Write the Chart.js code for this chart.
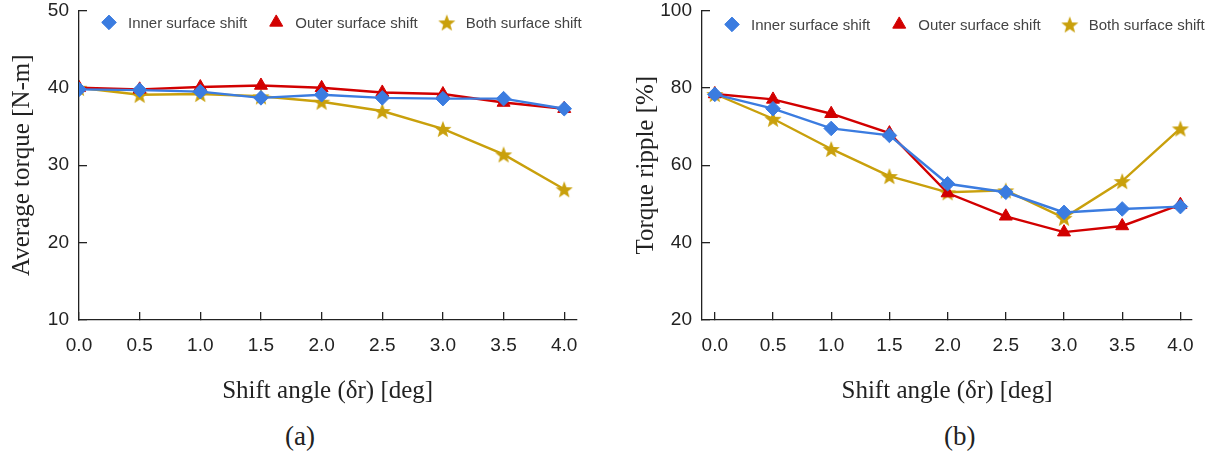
<!DOCTYPE html>
<html>
<head>
<meta charset="utf-8">
<script src="https://cdn.jsdelivr.net/npm/chart.js@4.4.1/dist/chart.umd.min.js"></script>
<style>
  body { margin: 0; background: #fff; width: 1216px; height: 456px; overflow: hidden; position: relative; }
  .box { position: absolute; top: -19px; height: 425px; }
  .cap { position: absolute; top: 421px; font: 27px "Liberation Serif", "Times New Roman", serif; color: #222; line-height: 30px; }
</style>
</head>
<body>
<div class="box" style="left:0;width:600px"><canvas id="torqueChart"></canvas></div>
<div class="box" style="left:620px;width:596px"><canvas id="rippleChart"></canvas></div>
<div class="cap" style="left:285px">(a)</div>
<div class="cap" style="left:944px">(b)</div>

<script>
// data
var angles = [0, 0.5, 1.0, 1.5, 2.0, 2.5, 3.0, 3.5, 4.0];
var seriesNames = ["Inner surface shift", "Outer surface shift", "Both surface shift"];

var torqueInner = [39.8, 39.7, 39.5, 38.7, 39.1, 38.7, 38.6, 38.6, 37.3];
var torqueOuter = [40.0, 39.8, 40.1, 40.3, 40.0, 39.4, 39.2, 38.1, 37.3];
var torqueBoth  = [40.0, 39.1, 39.2, 38.9, 38.2, 37.0, 34.7, 31.4, 26.9];

var rippleInner = [78.3, 74.6, 69.5, 67.7, 55.2, 53.0, 47.8, 48.7, 49.3];
var rippleOuter = [78.4, 77.0, 73.3, 68.3, 52.8, 46.8, 42.7, 44.3, 49.8];
var rippleBoth  = [78.4, 72.0, 64.2, 57.2, 53.0, 53.5, 46.4, 55.9, 69.5];

var angleTicks  = [0, 0.5, 1.0, 1.5, 2.0, 2.5, 3.0, 3.5, 4.0];
var torqueTicks = [10, 20, 30, 40, 50];
var rippleTicks = [20, 40, 60, 80, 100];

var seriesColors = ["#3b7ce0", "#d20000", "#c9a00c"];
var sansFont = '"Liberation Sans", Arial, sans-serif';
var serifFont = '"Liberation Serif", "Times New Roman", serif';
var axisColor = "#222";

// filled 5 point star (chart.js "star" is only an asterisk)
function makeStar(color, r) {
  var c = document.createElement("canvas");
  var s = Math.ceil(r * 2) + 2;
  c.width = c.height = s;
  var g = c.getContext("2d");
  g.fillStyle = color;
  g.beginPath();
  for (var i = 0; i < 10; i++) {
    var rr = i % 2 ? r * 0.42 : r;
    var a = -Math.PI / 2 + i * Math.PI / 5;
    g.lineTo(s / 2 + rr * Math.cos(a), s / 2 + 1 + rr * Math.sin(a));
  }
  g.closePath();
  g.fill();
  return c;
}

var pointStyles = ["rectRot", "triangle", makeStar(seriesColors[2], 9)];
var pointSizes = [7.3, 7.5, 8];

function lineSet(i, values) {
  return {
    label: seriesNames[i],
    data: angles.map(function (a, k) { return { x: a, y: values[k] }; }),
    borderColor: seriesColors[i],
    backgroundColor: seriesColors[i],
    borderWidth: 2.4,
    pointStyle: pointStyles[i],
    pointRadius: pointSizes[i],
    pointBorderWidth: 1,
    tension: 0
  };
}

// legend drawn inside the plot, like the original
var innerLegend = {
  id: "innerLegend",
  afterDraw: function (chart, args, opts) {
    var ctx = chart.ctx;
    var x = chart.chartArea.left + opts.offset;
    var y = chart.chartArea.top + opts.dy;
    ctx.save();
    ctx.font = "15px " + sansFont;
    ctx.textBaseline = "middle";
    chart.data.datasets.forEach(function (ds) {
      ctx.fillStyle = ds.backgroundColor;
      ctx.strokeStyle = ds.borderColor;
      Chart.helpers.drawPoint(ctx, { pointStyle: ds.pointStyle, radius: ds.pointRadius, rotation: 0, borderWidth: 1 }, x, y);
      ctx.fillStyle = "#444";
      ctx.fillText(ds.label, x + 19, y + 1);
      x += 19 + ctx.measureText(ds.label).width + 29;
    });
    ctx.restore();
  }
};

function makeChart(id, sets, yTicks, yTitle, xMin, yWidth, padRight, yTitlePad, legendDy) {
  return new Chart(document.getElementById(id), {
    type: "line",
    data: { datasets: sets },
    plugins: [innerLegend],
    options: {
      responsive: true,
      maintainAspectRatio: false,
      animation: false,
      layout: { padding: { top: 11, right: padRight, left: 0, bottom: 0 } },
      plugins: {
        legend: { display: false },
        tooltip: { enabled: false },
        innerLegend: { offset: 30, dy: legendDy }
      },
      scales: {
        x: {
          type: "linear",
          min: xMin,
          max: 4.1,
          afterBuildTicks: function (s) { s.ticks = angleTicks.map(function (v) { return { value: v }; }); },
          afterFit: function (s) { s.height = 86; },
          border: { color: axisColor, width: 1.3 },
          grid: { drawOnChartArea: false, color: axisColor, lineWidth: 1.3, tickLength: -8 },
          ticks: {
            padding: 22, color: axisColor, maxRotation: 0,
            font: { family: sansFont, size: 19 },
            callback: function (v) { return v.toFixed(1); }
          },
          title: {
            display: true, text: "Shift angle (δr) [deg]", color: axisColor,
            font: { family: serifFont, size: 25 }, padding: { top: 0, bottom: 0 }
          }
        },
        y: {
          min: yTicks[0],
          max: yTicks[yTicks.length - 1],
          afterBuildTicks: function (s) { s.ticks = yTicks.map(function (v) { return { value: v }; }); },
          afterFit: function (s) { s.width = yWidth; },
          border: { color: axisColor, width: 1.3 },
          grid: { drawOnChartArea: false, color: axisColor, lineWidth: 1.3, tickLength: -8 },
          ticks: { padding: 18, color: axisColor, font: { family: sansFont, size: 19 } },
          title: {
            display: true, text: yTitle, color: axisColor,
            font: { family: serifFont, size: 25 }, padding: { top: yTitlePad, bottom: 0 }
          }
        }
      }
    }
  });
}

makeChart("torqueChart",
  [lineSet(0, torqueInner), lineSet(1, torqueOuter), lineSet(2, torqueBoth)],
  torqueTicks, "Average torque [N-m]", 0, 79, 23, 7, 12);

makeChart("rippleChart",
  [lineSet(0, rippleInner), lineSet(1, rippleOuter), lineSet(2, rippleBoth)],
  rippleTicks, "Torque ripple [%]", -0.11, 82, 16, 11, 14);
</script>
</body>
</html>
